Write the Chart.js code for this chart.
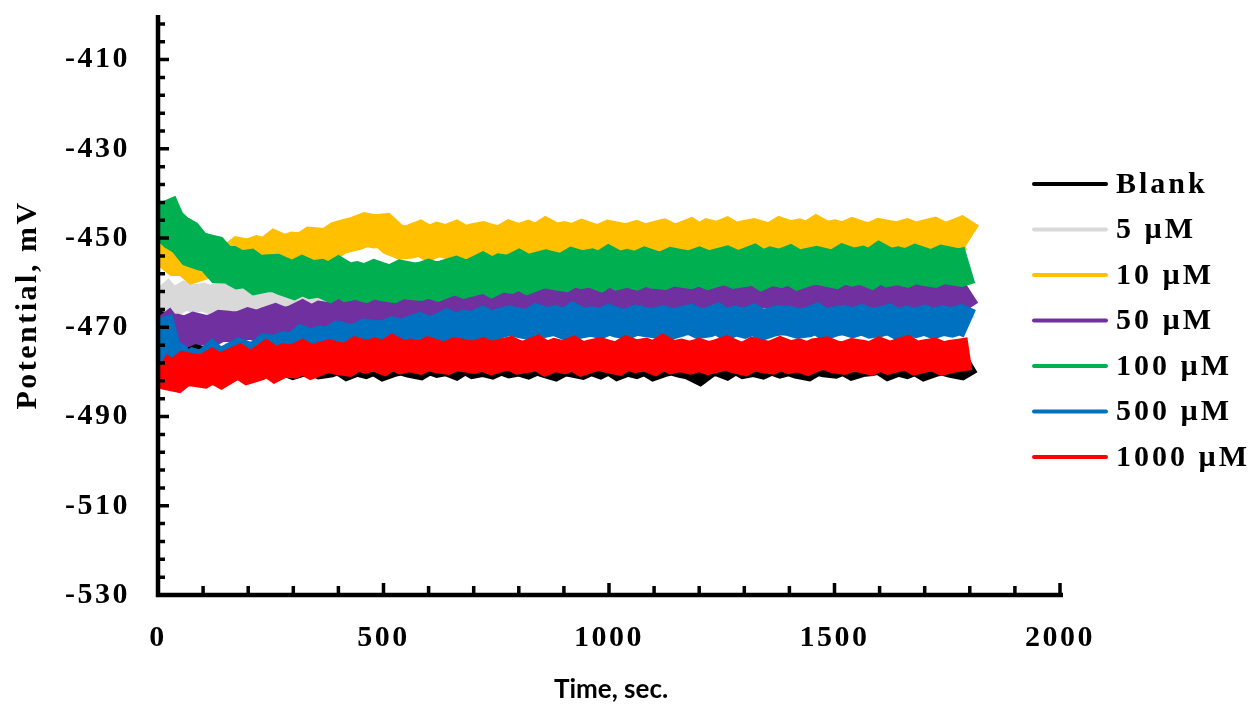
<!DOCTYPE html>
<html>
<head>
<meta charset="utf-8">
<script src="https://cdn.jsdelivr.net/npm/chart.js@4/dist/chart.umd.min.js"></script>
<style>
  html, body { margin: 0; padding: 0; background: #fff; }
  #wrap { width: 1254px; height: 708px; }
</style>
</head>
<body>
<div id="wrap"><canvas id="chart" width="1254" height="708"></canvas></div>
<script>
// open-circuit potential traces, one reading every 20 s from 0 to 1800 s
const timeSec = Array.from({ length: 91 }, (_, i) => i * 20);

const xTicks = [0, 500, 1000, 1500, 2000];
const yTicks = [-530, -510, -490, -470, -450, -430, -410];

const seriesNames = ['Blank', '5 µM', '10 µM', '50 µM', '100 µM', '500 µM', '1000 µM'];
const seriesColors = ['#000000', '#d9d9d9', '#ffc000', '#7030a0', '#00b050', '#0070c0', '#ff0000'];
// stroke width (px) of each noisy trace
const seriesWidths = [30, 28, 34, 31, 38, 30, 33];

const blank = [
  -462.4, -474.1, -476.2, -477.8, -477.0, -478.1, -477.7, -478.2, -477.3, -478.0,
  -478.3, -477.4, -477.8, -478.1, -477.5, -478.3, -477.7, -477.2, -478.2, -477.9,
  -477.1, -478.4, -477.6, -478.1, -477.3, -478.5, -477.8, -477.4, -478.0, -478.4,
  -477.2, -477.9, -477.5, -478.3, -477.0, -478.1, -477.7, -478.2, -477.3, -478.0,
  -477.6, -478.2, -477.3, -478.0, -478.6, -477.5, -477.9, -478.3, -477.4, -478.1,
  -477.1, -478.4, -477.6, -478.1, -477.3, -478.5, -477.8, -477.4, -478.0, -478.4,
  -479.4, -477.9, -477.5, -478.3, -477.0, -478.1, -477.7, -478.2, -477.3, -478.0,
  -477.5, -478.2, -478.6, -477.4, -477.9, -478.1, -477.3, -478.4, -477.8, -477.6,
  -477.1, -478.4, -477.6, -478.1, -477.3, -478.5, -477.8, -477.4, -478.0, -478.4,
  -477.2
];
const uM5 = [
  -461.1, -463.4, -464.1, -462.9, -463.6, -463.2, -464.0, -462.7, -463.8, -463.4,
  -464.1, -463.5, -464.5, -465.2, -464.6, -465.3, -465.6, -465.0, -465.8, -465.2,
  -464.7, -465.7, -465.4, -464.6, -465.9, -465.1, -465.6, -464.8, -466.0, -465.3,
  -464.9, -465.6, -466.0, -464.8, -465.5, -465.1, -465.9, -464.6, -465.7, -465.3,
  -465.8, -464.9, -465.6, -465.9, -465.0, -465.4, -465.7, -465.1, -465.9, -465.3,
  -464.8, -465.8, -465.5, -464.7, -466.0, -465.2, -465.7, -464.9, -466.1, -465.4,
  -465.2, -465.8, -464.7, -465.4, -466.0, -465.0, -465.6, -464.9, -465.5, -465.9,
  -465.1, -464.6, -465.7, -465.3, -465.8, -465.0, -465.6, -466.1, -465.2, -464.8,
  -465.5, -465.9, -465.1, -465.4, -464.7, -465.8, -465.3, -465.6, -465.0, -465.7,
  -464.9
];
const uM10 = [
  -452.4, -453.0, -454.6, -454.5, -456.2, -455.6, -455.0, -455.2, -455.2, -453.6,
  -454.0, -453.3, -453.8, -452.2, -453.1, -452.4, -452.6, -451.3, -451.5, -451.4,
  -450.0, -449.4, -448.9, -448.1, -448.5, -448.3, -450.2, -451.0, -450.8, -450.0,
  -451.2, -450.3, -450.8, -450.0, -451.2, -450.5, -450.1, -450.7, -451.1, -449.9,
  -450.6, -449.9, -450.7, -449.4, -450.5, -450.1, -450.6, -449.7, -450.4, -450.7,
  -449.8, -450.2, -450.5, -449.9, -450.7, -450.1, -449.6, -450.6, -450.3, -449.5,
  -450.8, -449.6, -450.1, -449.3, -450.5, -449.8, -449.4, -450.0, -450.4, -449.2,
  -449.9, -449.5, -450.3, -449.0, -450.1, -449.7, -450.2, -449.3, -450.0, -450.3,
  -449.4, -449.8, -450.1, -449.5, -450.3, -449.7, -449.2, -450.2, -449.9, -449.1,
  -450.4
];
const uM50 = [
  -467.7, -470.3, -470.4, -471.0, -470.1, -470.6, -470.7, -469.6, -469.8, -469.9,
  -469.1, -469.7, -468.9, -468.2, -469.0, -468.5, -467.5, -468.6, -467.6, -467.9,
  -466.9, -467.9, -467.0, -466.4, -466.8, -467.1, -465.8, -466.4, -465.9, -466.6,
  -465.1, -466.0, -465.4, -465.7, -464.6, -465.1, -465.2, -464.1, -464.3, -464.3,
  -463.4, -464.0, -463.2, -462.5, -463.4, -463.0, -462.1, -463.3, -462.4, -462.8,
  -461.9, -463.1, -462.4, -462.0, -462.6, -463.0, -461.8, -462.5, -462.1, -462.9,
  -461.6, -462.7, -462.3, -462.8, -461.9, -462.6, -462.9, -462.0, -462.4, -462.7,
  -462.1, -462.9, -462.3, -461.8, -462.8, -462.5, -461.7, -463.0, -462.2, -462.7,
  -461.9, -463.1, -462.4, -462.0, -462.6, -463.0, -461.8, -462.5, -462.1, -462.9,
  -461.6
];
const uM100 = [
  -442.2, -446.8, -448.7, -449.9, -452.4, -453.1, -453.6, -455.9, -456.0, -457.1,
  -456.8, -458.3, -457.9, -457.8, -458.7, -459.4, -458.4, -459.3, -459.0, -459.9,
  -458.7, -459.9, -459.5, -460.1, -459.2, -459.9, -460.2, -459.2, -459.6, -459.8,
  -459.1, -459.8, -459.0, -458.4, -459.2, -458.7, -457.7, -458.8, -457.8, -458.1,
  -457.1, -458.2, -457.4, -456.9, -457.4, -457.7, -456.5, -457.1, -456.7, -457.5,
  -456.2, -457.3, -456.8, -457.3, -456.4, -457.1, -457.3, -456.4, -456.8, -457.1,
  -456.4, -457.2, -456.6, -456.1, -457.0, -456.7, -455.9, -457.2, -456.3, -456.8,
  -456.0, -457.2, -456.5, -456.1, -456.6, -457.0, -455.8, -456.5, -456.1, -456.9,
  -455.5, -456.6, -456.2, -456.7, -455.8, -456.5, -456.8, -455.9, -456.3, -456.6,
  -456.0
];
const uM500 = [
  -467.9, -475.7, -476.7, -479.6, -478.1, -478.7, -476.9, -478.7, -477.0, -475.9,
  -476.6, -476.4, -474.8, -475.1, -474.3, -474.7, -473.0, -473.7, -473.0, -473.2,
  -472.0, -472.5, -472.6, -471.5, -471.7, -471.8, -471.0, -471.6, -470.8, -470.1,
  -470.9, -470.4, -469.4, -470.5, -469.5, -469.8, -468.8, -469.8, -469.0, -468.5,
  -469.0, -469.4, -468.2, -468.9, -468.5, -469.3, -468.0, -469.1, -468.7, -469.2,
  -468.3, -469.0, -469.3, -468.4, -468.8, -469.1, -468.5, -469.3, -468.7, -468.2,
  -469.2, -468.9, -468.1, -469.4, -468.6, -469.1, -468.3, -469.5, -468.8, -468.4,
  -468.6, -469.2, -468.9, -468.1, -469.4, -468.7, -468.4, -469.0, -468.3, -469.1,
  -468.8, -468.2, -469.3, -468.6, -469.0, -468.4, -469.2, -468.5, -468.9, -468.3,
  -469.2
];
const uM1000 = [
  -479.2, -480.4, -480.8, -479.2, -479.6, -479.9, -478.7, -479.8, -478.6, -477.7,
  -479.0, -478.4, -477.0, -478.4, -477.4, -477.7, -476.7, -477.8, -477.0, -476.5,
  -477.0, -477.3, -476.0, -476.6, -476.1, -476.9, -475.6, -476.7, -476.3, -476.8,
  -475.9, -476.6, -476.9, -476.0, -476.4, -476.7, -476.1, -476.9, -476.3, -475.8,
  -476.8, -476.5, -475.7, -477.0, -476.2, -476.7, -475.9, -477.1, -476.4, -476.0,
  -476.6, -477.0, -475.8, -476.5, -476.1, -476.9, -475.6, -476.7, -476.3, -476.8,
  -476.2, -476.9, -476.4, -475.7, -476.6, -477.1, -476.0, -476.5, -476.8, -475.9,
  -476.7, -476.3, -477.0, -476.1, -475.8, -476.6, -476.9, -476.2, -476.5, -477.0,
  -476.0, -476.8, -476.3, -475.7, -476.9, -476.4, -476.1, -477.0, -476.5, -476.2,
  -475.9
];

const seriesValues = [blank, uM5, uM10, uM50, uM100, uM500, uM1000];

const SERIF = '"Liberation Serif", "Times New Roman", serif';

const datasets = seriesNames.map((name, i) => ({
  label: name,
  data: timeSec.map((t, k) => ({ x: t, y: seriesValues[i][k] })),
  borderColor: seriesColors[i],
  backgroundColor: seriesColors[i],
  borderWidth: seriesWidths[i],
  borderCapStyle: 'butt',
  borderJoinStyle: 'miter',
  pointRadius: 0,
  tension: 0,
  fill: false,
  clip: 0,
  // later concentrations sit on top (lower order draws last)
  order: seriesNames.length - i,
}));

// axis lines with inward ticks, x-axis title and the key on the right
const frame = {
  id: 'frame',
  beforeDraw(chart) {
    chart.ctx.letterSpacing = '2.5px';
  },
  afterDraw(chart) {
    const { ctx, chartArea: a } = chart;
    const x = chart.scales.x;
    const y = chart.scales.y;
    ctx.save();
    ctx.letterSpacing = '0px';
    ctx.strokeStyle = '#000';
    ctx.lineCap = 'butt';

    ctx.lineWidth = 3.5;
    ctx.beginPath();
    for (let v = -530; v <= -400; v += 4) {
      const py = y.getPixelForValue(v);
      const len = (v + 530) % 20 === 0 ? 11 : 7;
      ctx.moveTo(a.left, py);
      ctx.lineTo(a.left + len, py);
    }
    for (let t = 100; t <= 2000; t += 100) {
      const px = x.getPixelForValue(t);
      const len = t % 500 === 0 ? 12 : 9;
      ctx.moveTo(px, a.bottom);
      ctx.lineTo(px, a.bottom - len);
    }
    ctx.stroke();

    ctx.lineWidth = 4.5;
    ctx.beginPath();
    ctx.moveTo(a.left, a.top);
    ctx.lineTo(a.left, a.bottom + 2);
    ctx.moveTo(a.left - 2, a.bottom);
    ctx.lineTo(x.getPixelForValue(2000) + 3, a.bottom);
    ctx.stroke();

    ctx.fillStyle = '#000';
    ctx.font = 'bold 26px Lato, "Open Sans", sans-serif';
    ctx.textAlign = 'center';
    ctx.textBaseline = 'middle';
    ctx.fillText('Time, sec.', (a.left + a.right) / 2 + 2, 690);

    const keyX = 1034, keyY = 184, keyStep = 45.5;
    ctx.textAlign = 'left';
    ctx.font = 'bold 30px ' + SERIF;
    ctx.letterSpacing = '3px';
    seriesNames.forEach((name, i) => {
      const yy = keyY + i * keyStep;
      ctx.strokeStyle = seriesColors[i];
      ctx.lineWidth = 4;
      ctx.lineCap = 'round';
      ctx.beginPath();
      ctx.moveTo(keyX, yy);
      ctx.lineTo(keyX + 72, yy);
      ctx.stroke();
      ctx.fillText(name, keyX + 82, yy + 1);
    });
    ctx.restore();
  }
};

const tickFont = { family: SERIF, size: 30, weight: 'bold' };

new Chart(document.getElementById('chart'), {
  type: 'line',
  data: { datasets },
  options: {
    responsive: false,
    animation: false,
    events: [],
    layout: { padding: { left: 0, top: 15, right: 194, bottom: 0 } },
    plugins: { legend: { display: false }, tooltip: { enabled: false } },
    scales: {
      x: {
        type: 'linear',
        min: 0,
        max: 2000,
        afterBuildTicks: (s) => { s.ticks = xTicks.map((v) => ({ value: v })); },
        afterFit: (s) => {
          s.height = 113;
          s.paddingLeft = 0;
          s.paddingRight = 0;
        },
        grid: { display: false, drawTicks: false },
        border: { display: false },
        ticks: {
          font: tickFont,
          color: '#000',
          padding: 25,
          maxRotation: 0,
          autoSkip: false,
          callback: (v) => String(v),
        },
      },
      y: {
        type: 'linear',
        min: -530,
        max: -400,
        afterBuildTicks: (s) => { s.ticks = yTicks.map((v) => ({ value: v })); },
        afterFit: (s) => {
          s.width = 158;
          s.paddingTop = 0;
          s.paddingBottom = 0;
        },
        grid: { display: false, drawTicks: false },
        border: { display: false },
        ticks: {
          font: tickFont,
          color: '#000',
          padding: 28,
          autoSkip: false,
          callback: (v) => String(v),
        },
        title: {
          display: true,
          text: 'Potential, mV',
          color: '#000',
          font: { family: SERIF, size: 30, weight: 'bold' },
          padding: { top: 10, bottom: 0 },
        },
      },
    },
  },
  plugins: [frame],
});
</script>
</body>
</html>
